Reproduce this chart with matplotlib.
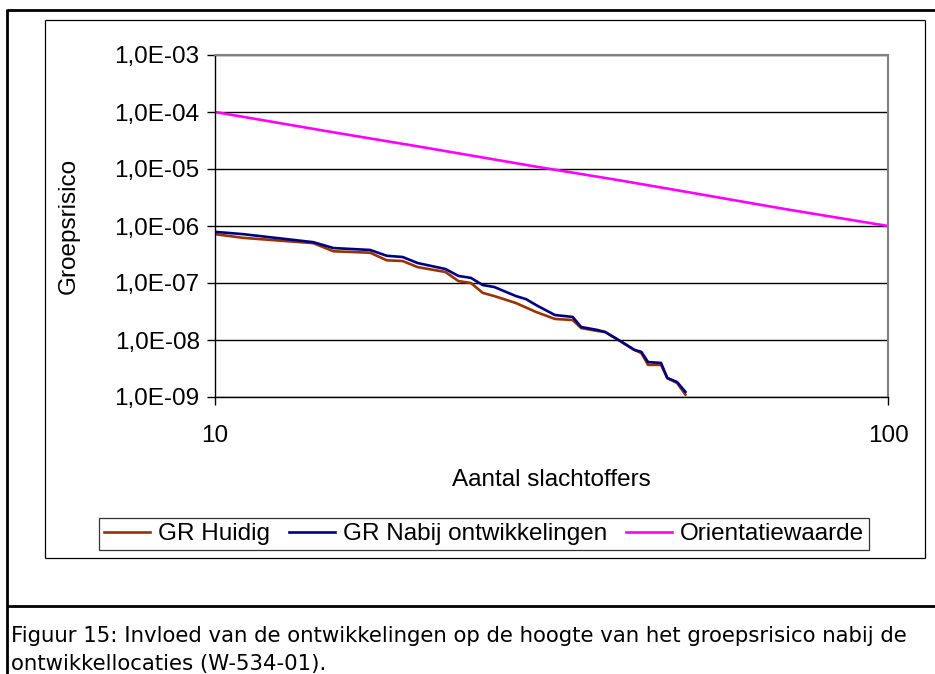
import matplotlib
matplotlib.use("Agg")
import math
import matplotlib.pyplot as plt
from matplotlib.lines import Line2D
from matplotlib.ticker import FixedLocator, FuncFormatter, NullLocator

# data
n_huidig = [10, 11, 14, 15, 17, 18, 19, 20, 22, 23, 24, 25, 26, 28, 30, 32, 34, 35, 37, 38, 40, 42, 43, 44, 46, 47, 48.6, 50]
gr_huidig = [7.2e-7, 6.2e-7, 5.0e-7, 3.6e-7, 3.4e-7, 2.5e-7, 2.43e-7, 1.9e-7, 1.56e-7, 1.08e-7, 1.0e-7,
             6.7e-8, 5.9e-8, 4.45e-8, 3.1e-8, 2.34e-8, 2.24e-8, 1.62e-8, 1.44e-8, 1.38e-8, 9.6e-9,
             6.7e-9, 5.9e-9, 3.66e-9, 3.66e-9, 2.15e-9, 1.76e-9, 1.1e-9]
n_nabij = [10, 11, 14, 15, 17, 18, 19, 20, 22, 23, 24, 25, 26, 28, 29, 30, 32, 34, 35, 37, 38, 40, 42, 43, 44, 46, 47, 48.6, 50]
gr_nabij = [7.9e-7, 7.2e-7, 5.2e-7, 4.1e-7, 3.8e-7, 3.0e-7, 2.86e-7, 2.24e-7, 1.76e-7, 1.33e-7, 1.23e-7,
            9.2e-8, 8.5e-8, 5.9e-8, 5.2e-8, 4.1e-8, 2.74e-8, 2.54e-8, 1.69e-8, 1.5e-8, 1.38e-8, 9.6e-9,
            6.7e-9, 6.2e-9, 4.1e-9, 3.96e-9, 2.15e-9, 1.83e-9, 1.23e-9]
n_orient = [10, 15, 20, 30, 40, 50, 70, 100]
orient = [1e-4, 4.4e-5, 2.5e-5, 1.1e-5, 6.3e-6, 4.0e-6, 2.0e-6, 1.0e-6]

y_ticks = [1e-9, 1e-8, 1e-7, 1e-6, 1e-5, 1e-4, 1e-3]
x_ticks = [10, 100]
labels = ["GR Huidig", "GR Nabij ontwikkelingen", "Orientatiewaarde"]
caption = ["Figuur 15: Invloed van de ontwikkelingen op de hoogte van het groepsrisico nabij de",
           "ontwikkellocaties (W-534-01)."]

W, H = 935, 674
fig = plt.figure(figsize=(W / 100, H / 100), dpi=100)
plt.rcParams["font.family"] = ["Liberation Sans", "DejaVu Sans"]
fs = 17.5


def fx(px):
    return px / W


def fy(py):
    return 1 - py / H


# frames
def fline(x0, y0, x1, y1, lw, color="black"):
    fig.add_artist(Line2D([fx(x0), fx(x1)], [fy(y0), fy(y1)], lw=lw, color=color,
                          solid_capstyle="butt"))


fline(7, 10, 935, 10, 2.0)
fline(7, 9, 7, 674, 2.0)
fline(7, 606, 935, 606, 2.0)
fline(45, 20, 925, 20, 0.9)
fline(45, 558, 925, 558, 0.9)
fline(45, 20, 45, 558, 0.9)
fline(925, 20, 925, 558, 0.9)

ax = fig.add_axes([fx(215), fy(397), fx(888) - fx(215), fy(55) - fy(397)])
ax.plot(n_huidig, gr_huidig, color="#993300", lw=1.9, label=labels[0])
ax.plot(n_nabij, gr_nabij, color="#000080", lw=1.9, label=labels[1])
ax.plot(n_orient, orient, color="#FF00FF", lw=1.9, label=labels[2])

ax.set_xscale("log")
ax.set_yscale("log")
ax.set_xlim(10, 100)
ax.set_ylim(1e-9, 1e-3)
ax.yaxis.set_major_locator(FixedLocator(y_ticks))
ax.yaxis.set_minor_locator(NullLocator())
ax.xaxis.set_major_locator(FixedLocator(x_ticks))
ax.xaxis.set_minor_locator(NullLocator())
ax.yaxis.set_major_formatter(FuncFormatter(lambda v, p: "1,0E-%02d" % round(-math.log10(v))))
ax.xaxis.set_major_formatter(FuncFormatter(lambda v, p: "%d" % v))
ax.tick_params(direction="out", length=6, width=1, labelsize=fs, pad=5)
ax.tick_params(axis="x", pad=14)
ax.grid(True, axis="y", color="black", lw=1)
ax.set_axisbelow(True)
for s in ["top", "right"]:
    ax.spines[s].set_color("#808080")
    ax.spines[s].set_linewidth(1.5)
ax.spines["bottom"].set_linewidth(1)
ax.spines["left"].set_linewidth(1)

ax.set_ylabel("Groepsrisico", fontsize=fs)
ax.set_xlabel("Aantal slachtoffers", fontsize=fs, labelpad=16)
ax.yaxis.set_label_coords((fx(80) - fx(215)) / ax.get_position().width, 0.5)

leg = fig.legend(loc="center", bbox_to_anchor=(fx(484), fy(534)), ncol=3, fontsize=fs,
                 frameon=True, fancybox=False, edgecolor="black", handlelength=1.9,
                 handletextpad=0.3, columnspacing=0.8, borderpad=0.2, borderaxespad=0)
leg.get_frame().set_linewidth(0.9)

# caption, sized to fit the box width
cap = []
for i, line in enumerate(caption):
    cap.append(fig.text(fx(11), fy([636, 664][i]), line, fontsize=14, va="center",
                        family="DejaVu Sans"))
fig.canvas.draw()
wpx = cap[0].get_window_extent().width
for t in cap:
    t.set_fontsize(14 * 906 / wpx)

fig.savefig("out.png", dpi=100)
